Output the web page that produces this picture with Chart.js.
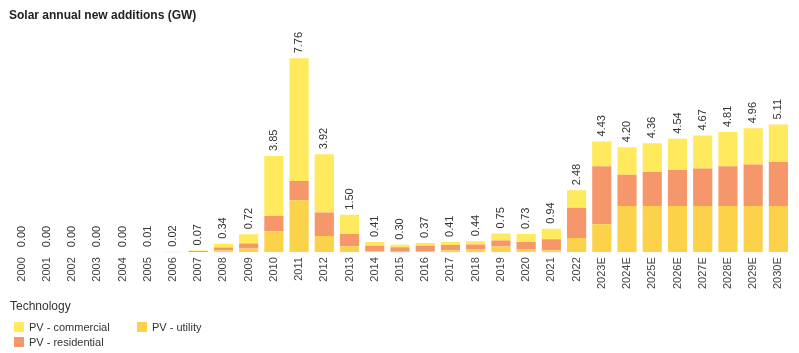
<!DOCTYPE html>
<html>
<head>
<meta charset="utf-8">
<script src="https://cdn.jsdelivr.net/npm/chart.js@4.4.1/dist/chart.umd.min.js"></script>
<style>
  body { margin: 0; background: #fff; font-family: "Liberation Sans", Arial, sans-serif; }
  #wrap { position: relative; width: 799px; height: 353px; }
  #legend { position: absolute; left: 10px; top: 299px; color: #333; }
  #legend .head { font-size: 12px; height: 16px; }
  #legend .item { position: absolute; font-size: 11px; white-space: nowrap; line-height: 12px; }
  #legend .sw { display: inline-block; width: 10px; height: 10px; vertical-align: -1px; margin-right: 5px; }
</style>
</head>
<body>
<div id="wrap">
  <canvas id="solarChart" width="799" height="353"></canvas>
  <div id="legend">
    <div class="head">Technology</div>
  </div>
</div>
<script>
const years = ['2000', '2001', '2002', '2003', '2004', '2005', '2006', '2007', '2008', '2009',
  '2010', '2011', '2012', '2013', '2014', '2015', '2016', '2017', '2018', '2019',
  '2020', '2021', '2022', '2023E', '2024E', '2025E', '2026E', '2027E', '2028E', '2029E', '2030E'];

const commercial = [0, 0, 0, 0, 0, 0, 0.01, 0.02, 0.15, 0.37,
  2.40, 4.91, 2.33, 0.77, 0.15, 0.10, 0.11, 0.12, 0.13, 0.28,
  0.32, 0.42, 0.70, 0.99, 1.10, 1.15, 1.25, 1.32, 1.37, 1.45, 1.50];

const residential = [0, 0, 0, 0, 0, 0.01, 0.01, 0.04, 0.11, 0.20,
  0.61, 0.77, 0.94, 0.49, 0.22, 0.18, 0.21, 0.21, 0.20, 0.24,
  0.28, 0.44, 1.21, 2.32, 1.25, 1.36, 1.44, 1.50, 1.59, 1.66, 1.76];

const utility = [0, 0, 0, 0, 0, 0, 0, 0.01, 0.08, 0.15,
  0.84, 2.08, 0.65, 0.24, 0.04, 0.02, 0.05, 0.08, 0.11, 0.23,
  0.13, 0.08, 0.57, 1.12, 1.85, 1.85, 1.85, 1.85, 1.85, 1.85, 1.85];

const totals = [0.00, 0.00, 0.00, 0.00, 0.00, 0.01, 0.02, 0.07, 0.34, 0.72,
  3.85, 7.76, 3.92, 1.50, 0.41, 0.30, 0.37, 0.41, 0.44, 0.75,
  0.73, 0.94, 2.48, 4.43, 4.20, 4.36, 4.54, 4.67, 4.81, 4.96, 5.11];

const colors = {
  commercial: '#FFE95C',
  residential: '#F5976A',
  utility: '#FDD24B'
};

// total labels drawn vertically above each stack
const totalLabels = {
  id: 'totalLabels',
  afterDatasetsDraw(chart) {
    const ctx = chart.ctx;
    const top = chart.getDatasetMeta(chart.data.datasets.length - 1);
    ctx.save();
    ctx.fillStyle = '#333';
    ctx.font = '11px "Liberation Sans", Arial, sans-serif';
    ctx.textAlign = 'left';
    ctx.textBaseline = 'middle';
    top.data.forEach(function (bar, i) {
      ctx.save();
      ctx.translate(bar.x, bar.y - 5);
      ctx.rotate(-Math.PI / 2);
      ctx.fillText(totals[i].toFixed(2), 0, 0);
      ctx.restore();
    });
    ctx.restore();
  }
};

const ctx = document.getElementById('solarChart').getContext('2d');
const solarChart = new Chart(ctx, {
  type: 'bar',
  data: {
    labels: years,
    datasets: [
      { label: 'PV - utility', data: utility, backgroundColor: colors.utility },
      { label: 'PV - residential', data: residential, backgroundColor: colors.residential },
      { label: 'PV - commercial', data: commercial, backgroundColor: colors.commercial }
    ]
  },
  options: {
    responsive: false,
    animation: false,
    layout: { padding: { left: 9, right: 8, top: 0, bottom: 59 } },
    datasets: { bar: { categoryPercentage: 1, barPercentage: 0.76 } },
    scales: {
      x: {
        stacked: true,
        grid: { display: false, drawTicks: false },
        border: { display: false },
        ticks: {
          minRotation: 90,
          maxRotation: 90,
          autoSkip: false,
          padding: 5,
          color: '#444',
          font: { size: 11, family: '"Liberation Sans", Arial, sans-serif' }
        }
      },
      y: {
        stacked: true,
        display: false,
        min: 0,
        max: 9
      }
    },
    plugins: {
      legend: { display: false },
      tooltip: { enabled: false },
      title: {
        display: true,
        text: 'Solar annual new additions (GW)',
        align: 'start',
        color: '#222',
        padding: { top: 8, bottom: 5 },
        font: { size: 12, weight: 'bold', family: '"Liberation Sans", Arial, sans-serif' }
      }
    }
  },
  plugins: [totalLabels]
});

// legend in the same grid as the reference
const legendItems = [
  { text: 'PV - commercial', color: colors.commercial, left: 4, top: 22 },
  { text: 'PV - utility', color: colors.utility, left: 127, top: 22 },
  { text: 'PV - residential', color: colors.residential, left: 4, top: 37 }
];
const legend = document.getElementById('legend');
legendItems.forEach(function (it) {
  const d = document.createElement('div');
  d.className = 'item';
  d.style.left = it.left + 'px';
  d.style.top = it.top + 'px';
  d.innerHTML = '<span class="sw" style="background:' + it.color + '"></span>' + it.text;
  legend.appendChild(d);
});
</script>
</body>
</html>
